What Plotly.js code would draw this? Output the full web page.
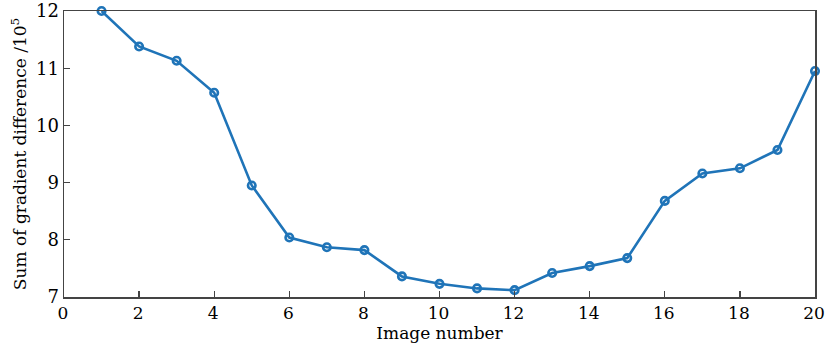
<!DOCTYPE html>
<html>
<head>
<meta charset="utf-8">
<script src="https://cdn.plot.ly/plotly-3.0.1.min.js"></script>
<style>html,body{margin:0;padding:0;background:#fff;}#chart{width:825px;height:346px;}</style>
</head>
<body>
<div id="chart"></div>
<script>
const imageNumber = [1,2,3,4,5,6,7,8,9,10,11,12,13,14,15,16,17,18,19,20];
const gradientSum = [12.0,11.38,11.13,10.57,8.95,8.04,7.87,7.82,7.36,7.23,7.15,7.12,7.42,7.54,7.68,8.68,9.16,9.25,9.57,10.95];
const xTicks = [0,2,4,6,8,10,12,14,16,18,20];
const yTicks = [7,8,9,10,11,12];

const fontFam = '"DejaVu Serif", serif';
const trace = {
  x: imageNumber, y: gradientSum, type: 'scatter', mode: 'lines+markers',
  line: {color: '#1f74b8', width: 2.6},
  marker: {symbol: 'circle-open', size: 7.5, color: '#1f74b8', line: {width: 2.6, color: '#1f74b8'}},
  cliponaxis: false, hoverinfo: 'skip'
};
const layout = {
  width: 825, height: 346,
  margin: {l: 64, r: 10, t: 11, b: 49},
  paper_bgcolor: '#fff', plot_bgcolor: '#fff',
  showlegend: false,
  font: {family: fontFam, size: 17, color: '#000'},
  xaxis: {
    range: [0, 20], tickvals: xTicks, ticktext: xTicks.map(String),
    ticks: 'inside', ticklen: 6, tickwidth: 1.3, tickcolor: '#444',
    showline: true, linecolor: '#444', linewidth: 1.5, mirror: true,
    showgrid: false, zeroline: false, ticklabeloverflow: 'allow', ticklabelshift: -1,
    tickfont: {family: fontFam, size: 17, color: '#000'},
    title: {text: 'Image number', font: {family: fontFam, size: 17, color: '#000'}, standoff: 3}
  },
  yaxis: {
    range: [7, 12], tickvals: yTicks, ticktext: yTicks.map(String),
    ticks: 'inside', ticklen: 6, tickwidth: 1.3, tickcolor: '#444',
    showline: true, linecolor: '#444', linewidth: 1.5, mirror: true,
    showgrid: false, zeroline: false, ticklabeloverflow: 'allow',
    tickfont: {family: fontFam, size: 18, color: '#000'},
    title: {text: 'Sum of gradient difference /10<sup>5</sup>', font: {family: fontFam, size: 17, color: '#000'}, standoff: 5}
  }
};
Plotly.newPlot('chart', [trace], layout, {displayModeBar: false, staticPlot: true});
</script>
</body>
</html>
